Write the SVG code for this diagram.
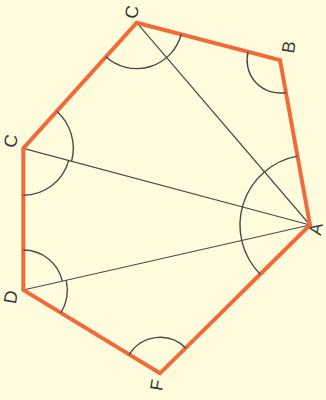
<svg xmlns="http://www.w3.org/2000/svg" width="326" height="400" viewBox="0 0 326 400">
<style>
.edge{fill:none;stroke:#f26a3a;stroke-width:4;stroke-linejoin:miter}
.diag{fill:none;stroke:#4a4a4a;stroke-width:1.2}
.arc{fill:none;stroke:#4a4a4a;stroke-width:1.4}
.lbl{font-family:"Liberation Sans",Arial,sans-serif;font-size:18px;fill:#3a3a3a;text-anchor:middle;dominant-baseline:central}
</style>
<rect width="326" height="400" fill="#fefcdc"/>
<g id="connectors">
<line class="diag" x1="310" y1="225" x2="136.7" y2="22.7"/>
<line class="diag" x1="310" y1="225" x2="23.3" y2="148.3"/>
<line class="diag" x1="310" y1="225" x2="23.3" y2="290"/>
</g>
<g id="polygon">
<polygon class="edge" points="136.7,22.7 280,60 310,225 160,373.3 23.3,290 23.3,148.3"/>
</g>
<g id="angles">
<path class="arc" d="M105.9,56.8 A46,46 0 0 0 181.2,34.3"/>
<path class="arc" d="M248.1,51.7 A33,33 0 0 0 285.9,92.5"/>
<path class="arc" d="M297.5,156.1 A70,70 0 0 0 260.2,274.2"/>
<path class="arc" d="M56.8,111.2 A50,50 0 0 1 71.6,161.2"/>
<path class="arc" d="M68.7,160.4 A47,47 0 0 1 23.3,195.3"/>
<path class="arc" d="M23.3,250 A40,40 0 0 1 62.3,281.1"/>
<path class="arc" d="M66.2,280.3 A44,44 0 0 1 60.9,312.9"/>
<path class="arc" d="M129.3,354.6 A36,36 0 0 1 185.6,348"/>
</g>
<g id="node-C-top"><text class="lbl" transform="rotate(-80 132 12)" x="132" y="12">C</text></g>
<g id="node-B"><text class="lbl" transform="rotate(-80 289 47)" x="289" y="47">B</text></g>
<g id="node-A"><text class="lbl" transform="rotate(-80 316 229)" x="316" y="229">A</text></g>
<g id="node-C-left"><text class="lbl" transform="rotate(-80 11 141)" x="11" y="141">C</text></g>
<g id="node-D"><text class="lbl" transform="rotate(-80 11 297)" x="11" y="297">D</text></g>
<g id="node-F"><text class="lbl" transform="rotate(-80 157 385)" x="157" y="385">F</text></g>
</svg>
